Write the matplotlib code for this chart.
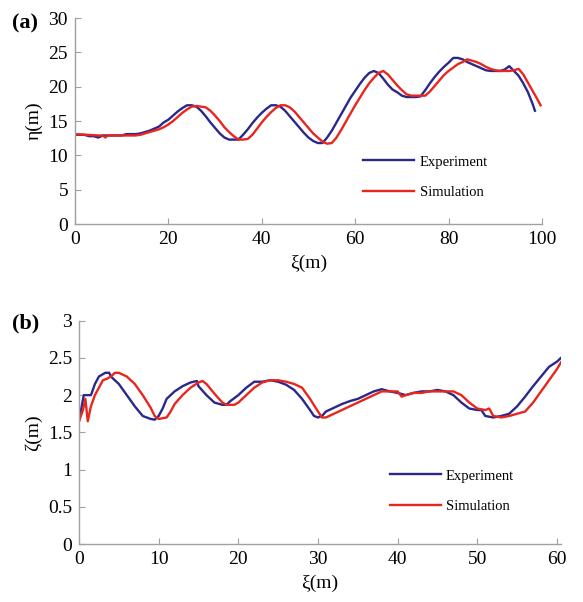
import matplotlib
matplotlib.use("Agg")
import matplotlib.pyplot as plt
import numpy as np

plt.rcParams['font.family'] = ['Liberation Serif', 'DejaVu Serif']

# ---- panel (a): eta vs xi ----
a_exp_x = [0, 1, 2, 3, 4, 5, 6, 8, 10, 11, 12, 13, 14, 15, 16, 17, 18, 19, 20, 21, 22, 23, 24, 25,
           26, 27, 28, 29, 30, 31, 32, 33, 34, 35, 36, 37, 38, 39, 40, 41, 42, 43, 44, 45, 46, 47,
           48, 49, 50, 51, 52, 53, 54, 55, 56, 57, 58, 59, 60, 61, 62, 63, 64, 65, 66, 67, 68, 69,
           70, 71, 72, 73, 74, 75, 76, 77, 78, 79, 80, 81, 82, 83, 84, 85, 86, 87, 88, 89, 90, 91,
           92, 93, 94, 95, 96, 97, 98, 98.5]
a_exp_y = [13.0, 13.0, 13.0, 12.8, 12.8, 12.6, 12.9, 12.9, 12.9, 13.1, 13.1, 13.1, 13.2, 13.4, 13.6,
           13.9, 14.2, 14.8, 15.2, 15.8, 16.4, 16.9, 17.3, 17.3, 17.1, 16.5, 15.7, 14.8, 14.0, 13.2,
           12.6, 12.3, 12.3, 12.3, 13.0, 13.8, 14.7, 15.5, 16.2, 16.8, 17.3, 17.3, 17.1, 16.5, 15.7,
           14.9, 14.1, 13.3, 12.6, 12.1, 11.8, 11.8, 12.6, 13.6, 14.8, 16.0, 17.2, 18.4, 19.4, 20.4,
           21.3, 22.0, 22.3, 22.0, 21.2, 20.3, 19.6, 19.2, 18.7, 18.5, 18.5, 18.5, 18.6, 19.5, 20.5,
           21.4, 22.2, 22.9, 23.5, 24.2, 24.2, 24.0, 23.6, 23.3, 23.0, 22.7, 22.4, 22.3, 22.3, 22.3,
           22.5, 23.0, 22.3, 21.6, 20.5, 19.2, 17.5, 16.5]

a_sim_x = [0, 5, 6, 6.5, 7, 13, 14, 15, 16, 17, 18, 19, 20, 21, 22, 23, 24, 25, 26, 27, 28, 29, 30,
           31, 32, 33, 34, 35, 36, 37, 38, 39, 40, 41, 42, 43, 44, 45, 46, 47, 48, 49, 50, 51, 52,
           53, 54, 55, 56, 57, 58, 59, 60, 61, 62, 63, 64, 65, 66, 67, 68, 69, 70, 71, 72, 73, 74,
           75, 76, 77, 78, 79, 80, 81, 82, 83, 84, 85, 86, 87, 88, 89, 90, 91, 92, 93, 94, 95, 96,
           97, 98, 99, 99.7]
a_sim_y = [13.1, 12.9, 12.9, 12.6, 12.9, 12.9, 13.0, 13.2, 13.4, 13.6, 13.8, 14.1, 14.5, 15.0, 15.6,
           16.2, 16.7, 17.1, 17.2, 17.1, 17.0, 16.5, 15.8, 15.0, 14.1, 13.4, 12.8, 12.3, 12.3, 12.4,
           13.0, 13.9, 14.8, 15.6, 16.3, 16.9, 17.3, 17.3, 17.0, 16.4, 15.6, 14.8, 14.0, 13.2, 12.6,
           12.0, 11.7, 11.8, 12.6, 13.7, 14.9, 16.1, 17.3, 18.4, 19.5, 20.5, 21.3, 22.0, 22.3, 21.8,
           21.0, 20.2, 19.5, 18.9, 18.7, 18.7, 18.7, 18.7, 19.3, 20.1, 20.9, 21.7, 22.3, 22.8, 23.3,
           23.6, 24.0, 23.8, 23.6, 23.3, 22.9, 22.6, 22.4, 22.3, 22.3, 22.3, 22.4, 22.6, 21.8, 20.6,
           19.4, 18.2, 17.3]

# ---- panel (b): zeta vs xi ----
b_exp_x = [0, 0.6, 1.5, 2, 2.5, 3.3, 3.8, 4, 5, 6, 7, 8, 9, 9.5, 10, 10.5, 11, 12, 13, 14, 14.8, 15,
           16, 17, 18, 18.5, 19, 20, 21, 22, 23, 24, 25, 26, 27, 28, 29, 29.5, 30, 30.5, 31, 32, 33,
           34, 35, 36, 37, 38, 39, 40, 41, 42, 43, 44, 45, 46, 47, 48, 49, 50, 50.5, 51, 52, 53, 54,
           55, 56, 57, 58, 59, 60, 60.5]
b_exp_y = [1.65, 2.0, 2.0, 2.15, 2.25, 2.3, 2.3, 2.25, 2.15, 2.0, 1.85, 1.72, 1.68, 1.67, 1.72, 1.82,
           1.95, 2.05, 2.12, 2.17, 2.19, 2.12, 2.0, 1.9, 1.87, 1.87, 1.92, 2.0, 2.1, 2.18, 2.18, 2.2,
           2.18, 2.14, 2.07, 1.95, 1.8, 1.72, 1.7, 1.72, 1.78, 1.83, 1.88, 1.92, 1.95, 2.0, 2.05, 2.08,
           2.05, 2.03, 2.0, 2.03, 2.05, 2.05, 2.07, 2.05, 2.0, 1.9, 1.82, 1.8, 1.8, 1.72, 1.7, 1.72,
           1.75, 1.85, 1.98, 2.12, 2.25, 2.38, 2.45, 2.5]

b_sim_x = [0, 0.5, 0.8, 1.1, 1.5, 2, 2.5, 3, 3.5, 4, 4.5, 5, 6, 7, 8, 9, 9.5, 10, 11, 11.5, 12, 13,
           14, 15, 15.5, 16, 17, 18, 18.5, 19, 19.5, 20, 21, 22, 23, 24, 25, 26, 27, 28, 29, 30,
           30.5, 31, 32, 33, 34, 35, 36, 37, 38, 39, 40, 40.5, 41, 42, 43, 44, 45, 46, 47, 48, 49,
           50, 51, 51.5, 52, 53, 54, 55, 56, 57, 58, 59, 60, 60.5]
b_sim_y = [1.65, 1.8, 1.95, 1.65, 1.85, 2.0, 2.1, 2.2, 2.22, 2.25, 2.3, 2.3, 2.25, 2.15, 2.0, 1.83,
           1.72, 1.68, 1.7, 1.78, 1.88, 2.0, 2.1, 2.17, 2.19, 2.15, 2.02, 1.9, 1.87, 1.87, 1.87, 1.9,
           2.0, 2.1, 2.17, 2.2, 2.2, 2.18, 2.15, 2.1, 1.95, 1.78, 1.7, 1.7, 1.75, 1.8, 1.85, 1.9, 1.95,
           2.0, 2.05, 2.05, 2.05, 1.98, 2.0, 2.03, 2.03, 2.05, 2.05, 2.05, 2.05, 2.0, 1.9, 1.82, 1.8,
           1.82, 1.72, 1.7, 1.72, 1.75, 1.78, 1.9, 2.05, 2.2, 2.35, 2.44]

blue = '#2a2888'
red = '#e8261e'
spine_c = '#a0a0a0'

fig = plt.figure(figsize=(5.83, 6.02), dpi=100)
ax1 = fig.add_axes([0.1286, 0.6279, 0.801, 0.342])
ax2 = fig.add_axes([0.1355, 0.0963, 0.8267, 0.371])


def style(ax):
    for s in ['top', 'right']:
        ax.spines[s].set_visible(False)
    for s in ['left', 'bottom']:
        ax.spines[s].set_color(spine_c)
        ax.spines[s].set_linewidth(1.0)
    ax.tick_params(direction='in', length=4, width=0.8, color=spine_c,
                   labelsize=14, pad=5)


ax1.plot(a_exp_x, a_exp_y, color=blue, lw=1.7, label='Experiment')
ax1.plot(a_sim_x, a_sim_y, color=red, lw=1.7, label='Simulation')
ax1.set_xlim(0, 100)
ax1.set_ylim(0, 30)
ax1.set_xticks([0, 20, 40, 60, 80, 100])
ax1.set_yticks([0, 5, 10, 15, 20, 25, 30])
style(ax1)
ax1.set_xlabel('ξ(m)', fontsize=14, labelpad=5)
ax1.set_ylabel('η(m)', fontsize=14, labelpad=4)
ax1.legend(loc='upper left', bbox_to_anchor=(0.602, 0.369), frameon=False, fontsize=10.5,
           handlelength=3.5, handletextpad=0.35, borderpad=0, labelspacing=1.2)
fig.text(0.02, 0.952, '(a)', fontsize=16, fontweight='bold')

ax2.plot(b_exp_x, b_exp_y, color=blue, lw=1.7, label='Experiment')
ax2.plot(b_sim_x, b_sim_y, color=red, lw=1.7, label='Simulation')
ax2.set_xlim(0, 60.5)
ax2.set_ylim(0, 3)
ax2.set_xticks([0, 10, 20, 30, 40, 50, 60])
ax2.set_xticklabels(['0', '10', '20', '30', '40', '50', '60'])
ax2.set_yticks([0, 0.5, 1, 1.5, 2, 2.5, 3])
ax2.set_yticklabels(['0', '0.5', '1', '1.5', '2', '2.5', '3'])
style(ax2)
ax2.set_xlabel('ξ(m)', fontsize=14, labelpad=5)
ax2.set_ylabel('ζ(m)', fontsize=14, labelpad=4)
ax2.legend(loc='upper left', bbox_to_anchor=(0.630, 0.367), frameon=False, fontsize=10.5,
           handlelength=3.5, handletextpad=0.35, borderpad=0, labelspacing=1.2)
fig.text(0.02, 0.455, '(b)', fontsize=16, fontweight='bold')

fig.savefig('out.png', dpi=100)
